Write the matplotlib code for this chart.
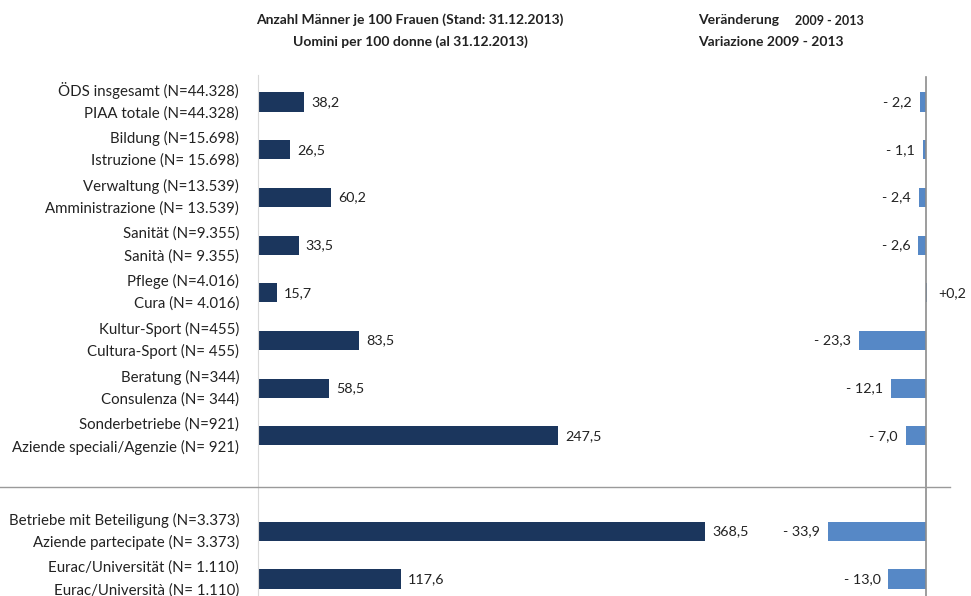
import matplotlib.pyplot as plt
from matplotlib.lines import Line2D
from matplotlib.transforms import blended_transform_factory

plt.rcParams['font.family'] = ['Lato', 'DejaVu Sans']

labels_de = ["ÖDS insgesamt (N=44.328)", "Bildung (N=15.698)", "Verwaltung (N=13.539)",
             "Sanität (N=9.355)", "Pflege (N=4.016)", "Kultur-Sport (N=455)",
             "Beratung (N=344)", "Sonderbetriebe (N=921)",
             "Betriebe mit Beteiligung (N=3.373)", "Eurac/Universität (N= 1.110)"]
labels_it = ["PIAA totale (N=44.328)", "Istruzione (N= 15.698)", "Amministrazione (N= 13.539)",
             "Sanità (N= 9.355)", "Cura (N= 4.016)", "Cultura-Sport (N= 455)",
             "Consulenza (N= 344)", "Aziende speciali/Agenzie (N= 921)",
             "Aziende partecipate (N= 3.373)", "Eurac/Università (N= 1.110)"]
men_per_100 = [38.2, 26.5, 60.2, 33.5, 15.7, 83.5, 58.5, 247.5, 368.5, 117.6]
change = [-2.2, -1.1, -2.4, -2.6, 0.2, -23.3, -12.1, -7.0, -33.9, -13.0]
rows = [0, 1, 2, 3, 4, 5, 6, 7, 9, 10]

W, H = 971, 596
fig = plt.figure(figsize=(W / 100, H / 100), dpi=100)

# pixel layout: row 0 centred at y=102, rows 47.7 px apart, axes from y=75 to the bottom
y0, dy = 102, 47.7
ytop, ybot = 75, 596
ylim = ((ybot - y0) / dy, (ytop - y0) / dy)

def fig_rect(x1, x2):
    return [x1 / W, 1 - ybot / H, (x2 - x1) / W, (ybot - ytop) / H]

navy = "#1b365d"
blue = "#5688c6"
txt = "#222222"

# left panel: men per 100 women
ax1 = fig.add_axes(fig_rect(258, 925))
ax1.set_xlim(0, 667 / 1.213)
ax1.set_ylim(*ylim)
ax1.barh(rows, men_per_100, height=0.4, color=navy)
for r, v in zip(rows, men_per_100):
    ax1.annotate(f"{v:.1f}".replace(".", ","), (v, r), xytext=(7, 0), textcoords="offset pixels",
                 ha="left", va="center", fontsize=10.3, color=txt)
for side in ["top", "right", "bottom"]:
    ax1.spines[side].set_visible(False)
ax1.spines["left"].set_color("#d9d9d9")
ax1.set_xticks([])
ax1.set_yticks([])
ax1.patch.set_alpha(0)

trans = blended_transform_factory(fig.transFigure, ax1.transData)
for r, de, it in zip(rows, labels_de, labels_it):
    fig.text(239 / W, r - 0.235, de, transform=trans, ha="right", va="center", fontsize=10.8, color=txt)
    fig.text(239 / W, r + 0.235, it, transform=trans, ha="right", va="center", fontsize=10.8, color=txt)

# right panel: change 2009 - 2013
ax2 = fig.add_axes(fig_rect(760, 971))
ppu = 2.89
ax2.set_xlim(-(926 - 760) / ppu, (971 - 926) / ppu)
ax2.set_ylim(*ylim)
ax2.barh(rows, change, height=0.4, color=blue)
for r, v in zip(rows, change):
    s = f"{abs(v):.1f}".replace(".", ",")
    if v < 0:
        ax2.annotate("- " + s, (v, r), xytext=(-8, 0), textcoords="offset pixels",
                     ha="right", va="center", fontsize=10.3, color=txt)
    else:
        ax2.annotate("+" + s, (v, r), xytext=(12, 0), textcoords="offset pixels",
                     ha="left", va="center", fontsize=10.3, color=txt)
ax2.axvline(0, ymin=0, ymax=1 - 2 / (ybot - ytop), color="#8c8c8c", lw=1.2)
ax2.axis("off")

# separator between the groups
fig.add_artist(Line2D([0, 950 / W], [1 - 487 / H, 1 - 487 / H], color="#9a9a9a", lw=1.0))

# headers
fig.text(410 / W, 1 - 20 / H, "Anzahl Männer je 100 Frauen (Stand: 31.12.2013)",
         ha="center", va="center", fontsize=10, fontweight="bold", color=txt)
fig.text(410 / W, 1 - 42 / H, "Uomini per 100 donne (al 31.12.2013)",
         ha="center", va="center", fontsize=10, fontweight="bold", color=txt)
fig.text(698 / W, 1 - 20 / H, "Veränderung", ha="left", va="center",
         fontsize=10, fontweight="bold", color=txt)
fig.text(795 / W, 1 - 21 / H, "2009 - 2013", ha="left", va="center",
         fontsize=9, fontweight="bold", color=txt)
fig.text(698 / W, 1 - 42 / H, "Variazione 2009 - 2013", ha="left", va="center",
         fontsize=10, fontweight="bold", color=txt)

fig.savefig("out.png", dpi=100)
